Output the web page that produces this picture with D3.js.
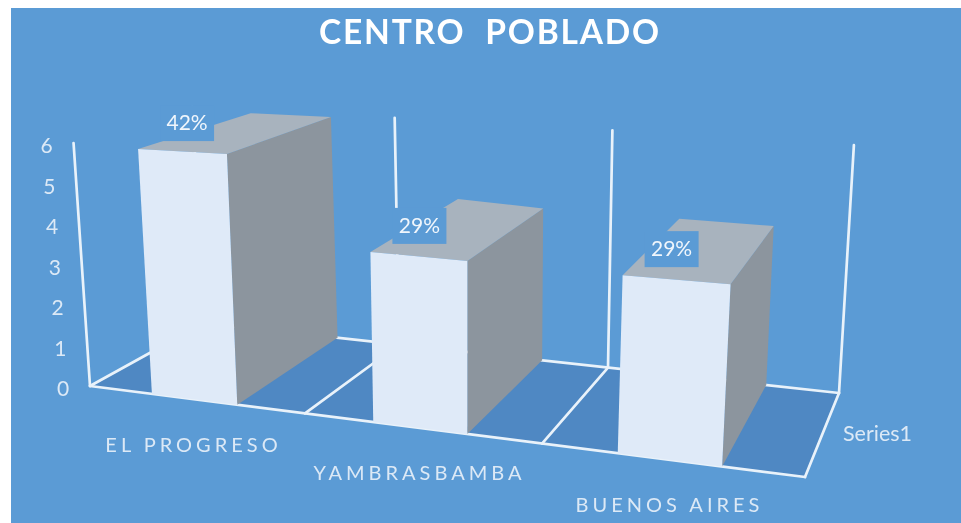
<!DOCTYPE html>
<html><head><meta charset="utf-8">
<script src="https://cdn.jsdelivr.net/npm/d3@7/dist/d3.min.js"></script>
<style>html,body{margin:0;padding:0;background:#fff}svg{display:block;filter:blur(0.45px)}text{font-family:Lato,"Open Sans",sans-serif}</style>
</head><body>
<script>
const title = "CENTRO  POBLADO";
const categories = ["EL PROGRESO", "YAMBRASBAMBA", "BUENOS AIRES"];
const seriesName = "Series1";
const values = [6, 4.15, 4.15];
const tickValues = [0, 1, 2, 3, 4, 5, 6];

const W = 961, H = 523, bg = "#5B9BD5", floorFill = "#4F88C3", lineCol = "#E9F2FA";
const svg = d3.select("body").append("svg").attr("width", W).attr("height", H);
svg.append("rect").attr("x", 11).attr("y", 8).attr("width", W - 11).attr("height", H - 8).attr("fill", bg);

// Perspective model of the 3-D frame, built from scales.
const slots = d3.range(categories.length + 1);
const frontX = d3.scaleLinear().domain(slots).range([90, 305, 542, 805]);
const backX = d3.scaleLinear().domain(slots).range([204, 399, 608, 839]);
const frontY = d3.scaleLinear().domain([90, 805]).range([386, 477]);
const backY = d3.scaleLinear().domain([204, 839]).range([323, 393]);
const frontUnit = d3.scaleLinear().domain([0, 0.288, 0.685, 1.288, 1.685, 2.288, 2.685]).range([40.5, 40.8, 41.8, 41, 41.7, 42.9, 43.9]);
const wallUnit = d3.scaleLinear().domain([0, 3]).range([36, 41.3]);
const barBackUnit = d3.scaleLinear().domain([0.288, 0.7, 1.7, 2.69]).range([36, 36.8, 36.6, 38.3]);
const leanSlope = 0.00018, leanZero = d3.scaleLinear().domain([0, 1]).range([466, 505]);

function project(s, depth, value, backUnit) {
  const fx = frontX(s), bx = backX(s);
  const bxv = fx + (bx - fx) * depth;
  const byv = frontY(fx) + (backY(bx) - frontY(fx)) * depth;
  const unit = frontUnit(s) + (backUnit(s) - frontUnit(s)) * depth;
  const h = value * unit;
  return [bxv + (bxv - leanZero(depth)) * leanSlope * h, byv - h];
}
const wallPt = (s, d, v) => project(s, d, v, wallUnit);
const barPt = (s, d, v) => project(s, d, v, barBackUnit);
const poly = d3.line();

const gFrame = svg.append("g");
gFrame.append("path")
  .attr("d", poly([wallPt(0, 0, 0), wallPt(3, 0, 0), wallPt(3, 1, 0), wallPt(0, 1, 0)]) + "Z")
  .attr("fill", floorFill);

function segment(a, b) {
  gFrame.append("path").attr("d", poly([a, b])).attr("fill", "none")
    .attr("stroke", lineCol).attr("stroke-width", 2.7).attr("stroke-linecap", "round");
}
segment(wallPt(0, 0, 0), wallPt(3, 0, 0));
segment(wallPt(0, 1, 0), wallPt(3, 1, 0));
segment(wallPt(0, 0, 0), wallPt(0, 0, d3.max(tickValues)));
slots.forEach(s => {
  segment(wallPt(s, 0, 0), wallPt(s, 1, 0));
  segment(wallPt(s, 1, 0), wallPt(s, 1, d3.max(tickValues)));
});

// Bars
const barStart = 0.288, barEnd = 0.685;
const gBars = svg.append("g");
const total = d3.sum(values), pct = d3.format(".0%");
values.forEach((v, i) => {
  const a = i + barStart, b = i + barEnd;
  gBars.append("path").attr("d", poly([barPt(b, 0, v), barPt(b, 1, v), barPt(b, 1, 0), barPt(b, 0, 0)]) + "Z").attr("fill", "#8C959E");
  gBars.append("path").attr("d", poly([barPt(a, 0, v), barPt(b, 0, v), barPt(b, 1, v), barPt(a, 1, v)]) + "Z").attr("fill", "#A8B3BE");
  gBars.append("path").attr("d", poly([barPt(a, 0, v), barPt(b, 0, v), barPt(b, 0, 0), barPt(a, 0, 0)]) + "Z").attr("fill", "#DFEAF8");
});

// Data labels with background boxes
const gLabels = svg.append("g");
values.forEach((v, i) => {
  const p = barPt(i + barStart, 0, v);
  const cx = p[0] + 49, cy = p[1] - 26;
  gLabels.append("rect").attr("x", cx - 27).attr("y", cy - 18).attr("width", 54).attr("height", 36).attr("fill", bg);
  gLabels.append("text").attr("x", cx).attr("y", cy).attr("text-anchor", "middle").attr("dy", "0.35em")
    .attr("font-size", 21).attr("fill", "#F0F6FC").text(pct(v / total));
});

// Value axis labels
svg.append("g").selectAll("text").data(tickValues).join("text")
  .attr("x", d => wallPt(0, 0, d)[0] - 27)
  .attr("y", d => wallPt(0, 0, d)[1] + 3)
  .attr("dy", "0.35em").attr("text-anchor", "middle")
  .attr("font-size", 21).attr("fill", "#DCE9F6").text(d => d);

// Category labels
svg.append("g").selectAll("text").data(categories).join("text")
  .attr("x", (d, i) => frontX(i + 0.5) - 4)
  .attr("y", (d, i) => frontY(frontX(i + 0.5)) + 45)
  .attr("dy", "0.35em").attr("text-anchor", "middle")
  .attr("font-size", 20).attr("letter-spacing", 4).attr("fill", "#DCE9F6").text(d => d);

// Series label
svg.append("text").attr("x", 843).attr("y", 433).attr("dy", "0.35em")
  .attr("font-size", 21.5).attr("fill", "#DCE9F6").text(seriesName);

// Title
svg.append("text").attr("x", 490).attr("y", 32).attr("dy", "0.35em").attr("text-anchor", "middle")
  .attr("font-size", 33.5).attr("font-weight", 700).attr("letter-spacing", 1.8)
  .style("white-space", "pre").attr("fill", "#fff").text(title);
</script>
</body></html>
